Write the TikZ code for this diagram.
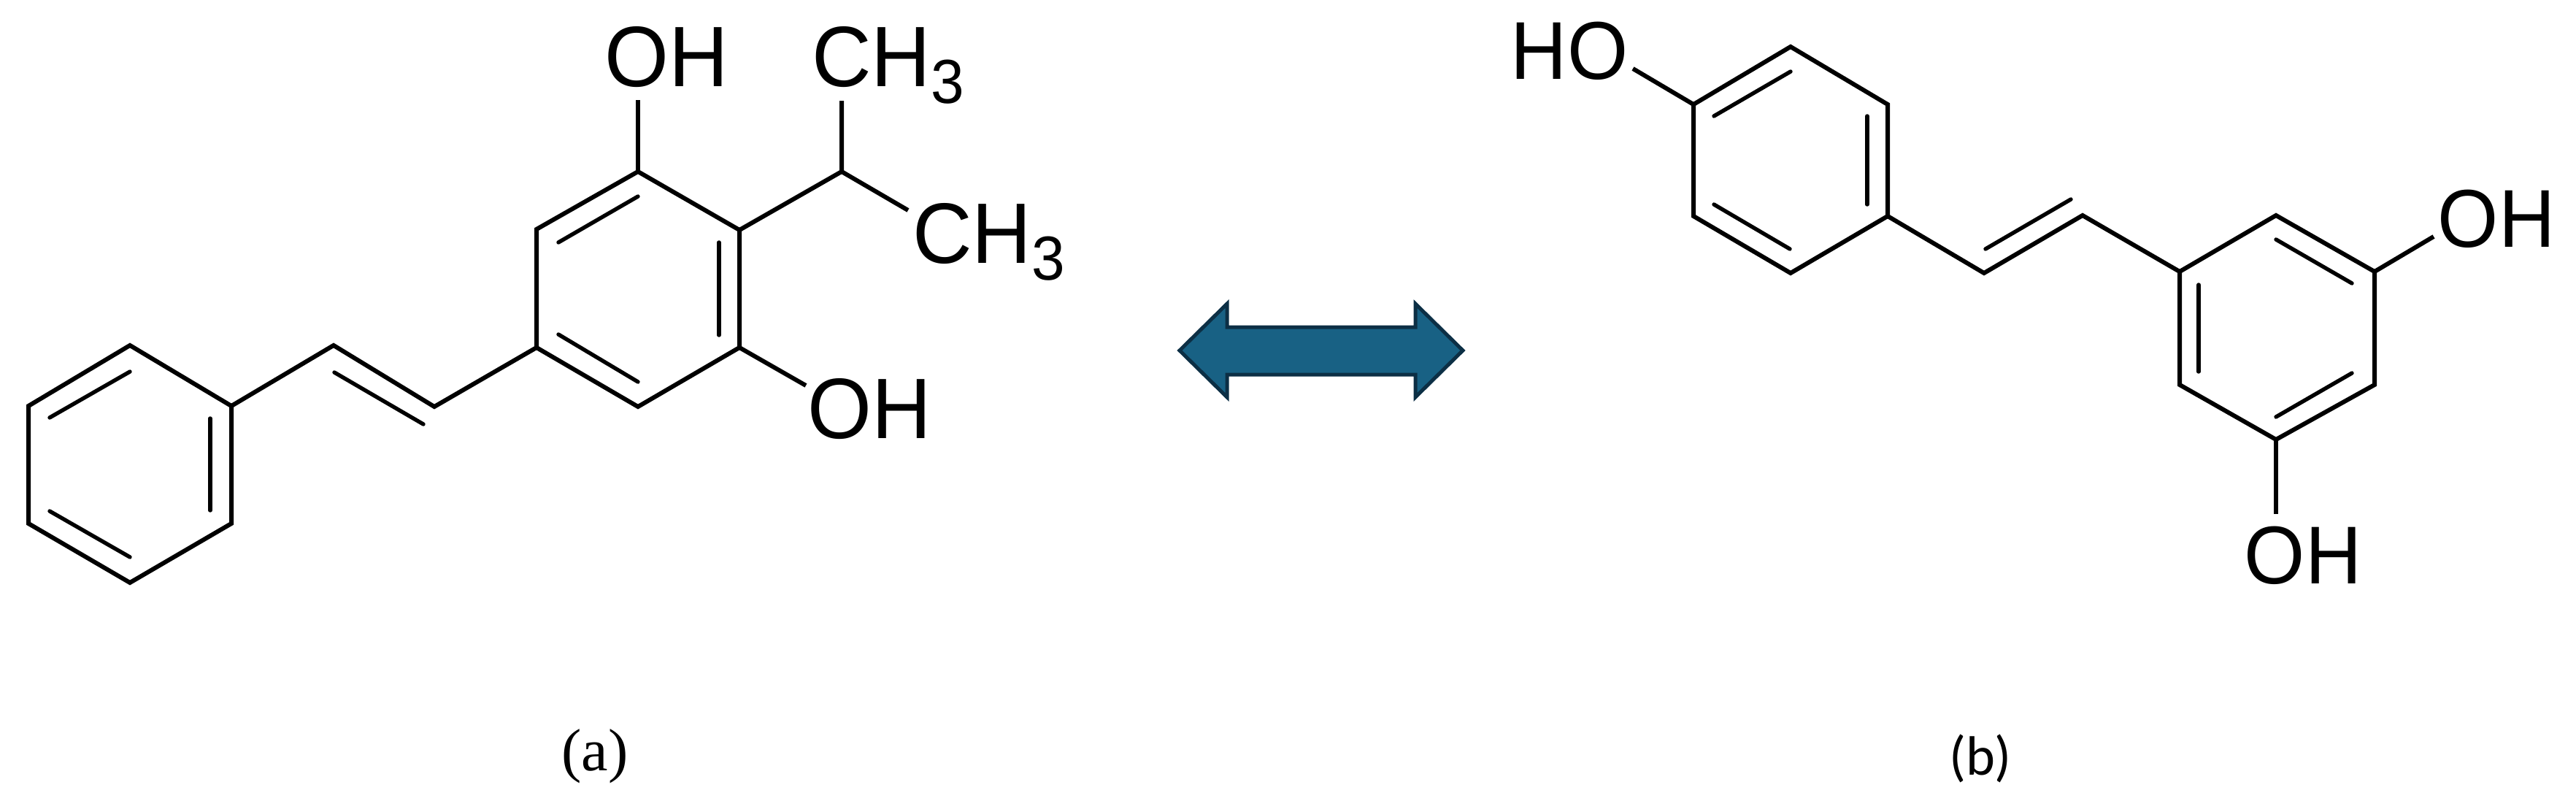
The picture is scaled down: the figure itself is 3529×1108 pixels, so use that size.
\documentclass[tikz,border=0pt]{standalone}
\usepackage{fontspec}
\setmainfont{Liberation Sans}
\newfontfamily\capserif{Liberation Serif}
\newfontfamily\capsans{Carlito}
\definecolor{arrowfill}{HTML}{186184}
\definecolor{arrowline}{HTML}{0C2F45}
\newcommand{\chemA}{\fontsize{56.5}{56.5}\selectfont}
\newcommand{\chemB}{\fontsize{53.5}{53.5}\selectfont}
\newcommand{\stA}[1]{\scalebox{1}[1.04]{#1}}
\newcommand{\stB}[1]{\scalebox{1}[1.05]{#1}}
\newcommand{\subthree}{\raisebox{-11.5pt}{\fontsize{41}{41}\selectfont 3}}
\tikzset{
  bond/.style={line width=3pt,line join=miter,line cap=butt,black},
  inner bond/.style={line width=2.7pt,line cap=round,black},
  atomA/.style={inner sep=0pt,outer sep=0pt,font=\chemA,black},
  atomB/.style={inner sep=0pt,outer sep=0pt,font=\chemB,black},
}
\begin{document}
\begin{tikzpicture}[x=0.5pt,y=-0.5pt]
\useasboundingbox (0,0) rectangle (3529,1108);
\fill[white] (0,0) rectangle (3529,1108);

% ---- molecule (a) ----
\coordinate (p1) at (178,473);
\coordinate (p2) at (317,556);
\coordinate (p3) at (317,717);
\coordinate (p4) at (178,798);
\coordinate (p5) at (39,717);
\coordinate (p6) at (39,556);
\coordinate (v1) at (457,473);
\coordinate (v2) at (595,557);
\coordinate (r1) at (874,235);
\coordinate (r2) at (1013,315);
\coordinate (r3) at (1013,476);
\coordinate (r4) at (874,557);
\coordinate (r5) at (735,476);
\coordinate (r6) at (735,314);
\coordinate (ip) at (1153,235);
\coordinate (ohtopend) at (874,137);
\coordinate (me1end) at (1153,138);
\coordinate (me2end) at (1244,288);
\coordinate (ohlowend) at (1104,528);

\node[atomA,anchor=base] (ohtop) at (913,118) {\stA{OH}};
\node[atomA,anchor=base west] (me1) at (1112,118) {\stA{CH\subthree}};
\node[atomA,anchor=base west] (me2) at (1250,360) {\stA{CH\subthree}};
\node[atomA,anchor=base] (ohlow) at (1191,600) {\stA{OH}};

\draw[bond] (p1)--(p2)--(p3)--(p4)--(p5)--(p6)--cycle;
\draw[bond] (p2)--(v1)--(v2)--(r5);
\draw[bond] (r1)--(r2)--(r3)--(r4)--(r5)--(r6)--cycle;
\draw[bond] (r1)--(ohtopend);
\draw[bond] (r2)--(ip)--(me1end);
\draw[bond] (ip)--(me2end);
\draw[bond] (r3)--(ohlowend);

\coordinate (a1s) at (288,573); \coordinate (a1e) at (288,699);
\coordinate (a2s) at (68,572);  \coordinate (a2e) at (178,509);
\coordinate (a3s) at (68,700);  \coordinate (a3e) at (178,763);
\coordinate (a4s) at (458,510); \coordinate (a4e) at (580,581);
\coordinate (a5s) at (765,332); \coordinate (a5e) at (874,269);
\coordinate (a6s) at (765,458); \coordinate (a6e) at (874,523);
\coordinate (a7s) at (985,332); \coordinate (a7e) at (985,459);
\foreach \n in {a1,a2,a3,a4,a5,a6,a7}
  \draw[inner bond] (\n s)--(\n e);

% ---- double arrow ----
\path[fill=arrowfill,draw=arrowline,line width=2.5pt,line join=miter]
  (1616,480)--(1681,416)--(1681,448)--(1939,448)--(1939,416)--(2004,480)
  --(1939,544)--(1939,513)--(1681,513)--(1681,544)--cycle;

% ---- molecule (b) ----
\coordinate (q1) at (2453,64);
\coordinate (q2) at (2586,143);
\coordinate (q3) at (2586,296);
\coordinate (q4) at (2453,374);
\coordinate (q5) at (2320,296);
\coordinate (q6) at (2320,143);
\coordinate (w1) at (2718,374);
\coordinate (w2) at (2853,295);
\coordinate (s1) at (3118,295);
\coordinate (s2) at (3253,372);
\coordinate (s3) at (3253,527);
\coordinate (s4) at (3118,602);
\coordinate (s5) at (2986,527);
\coordinate (s6) at (2986,372);
\coordinate (hoend) at (2237,94);
\coordinate (ohrend) at (3334,324);
\coordinate (ohbend) at (3118,704);

\node[atomB,anchor=base] (ho) at (2150,108) {\stB{HO}};
\node[atomB,anchor=base] (ohr) at (3420,338) {\stB{OH}};
\node[atomB,anchor=base] (ohb) at (3155,799) {\stB{OH}};

\draw[bond] (q1)--(q2)--(q3)--(q4)--(q5)--(q6)--cycle;
\draw[bond] (q6)--(hoend);
\draw[bond] (q3)--(w1)--(w2)--(s6);
\draw[bond] (s1)--(s2)--(s3)--(s4)--(s5)--(s6)--cycle;
\draw[bond] (s2)--(ohrend);
\draw[bond] (s4)--(ohbend);

\coordinate (b1s) at (2348,159); \coordinate (b1e) at (2453,98);
\coordinate (b2s) at (2558,159); \coordinate (b2e) at (2558,280);
\coordinate (b3s) at (2348,280); \coordinate (b3e) at (2452,341);
\coordinate (b4s) at (2720,341); \coordinate (b4e) at (2837,273);
\coordinate (b5s) at (3012,390); \coordinate (b5e) at (3012,509);
\coordinate (b6s) at (3118,328); \coordinate (b6e) at (3222,388);
\coordinate (b7s) at (3222,511); \coordinate (b7e) at (3118,571);
\foreach \n in {b1,b2,b3,b4,b5,b6,b7}
  \draw[inner bond] (\n s)--(\n e);

% ---- captions ----
\node[inner sep=0pt,anchor=base,font=\capserif\fontsize{41}{41}\selectfont] (capa) at (815,1055) {(a)};
\node[inner sep=0pt,anchor=base,font=\capsans\fontsize{38}{38}\selectfont] (capb) at (2713,1061) {(b)};
\end{tikzpicture}
\end{document}
